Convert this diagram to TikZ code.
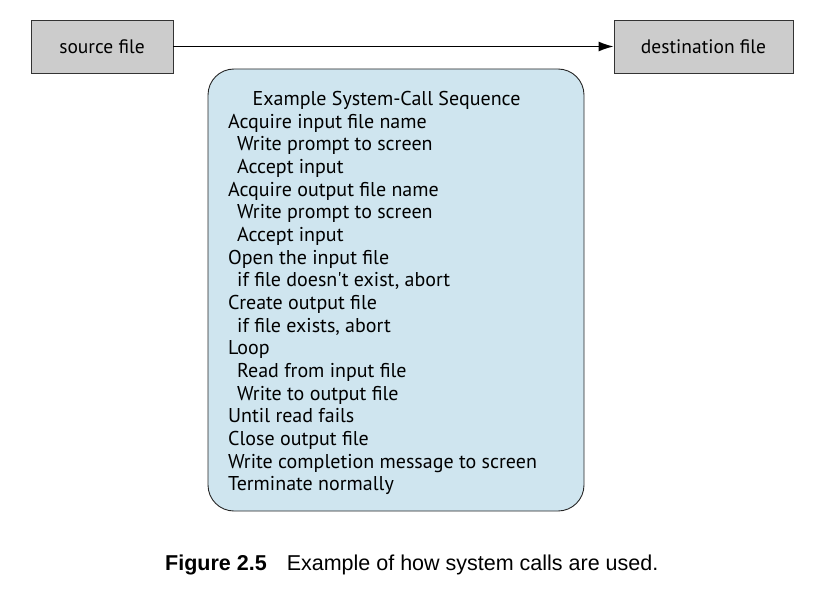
\documentclass[tikz,border=0pt]{standalone}
\usepackage{fontspec}
\setmainfont{PT Sans}
\newfontfamily\capfont{Liberation Sans}
\usetikzlibrary{arrows.meta}
\definecolor{filegray}{HTML}{CCCCCC}
\definecolor{seqblue}{HTML}{CFE5EF}
\tikzset{
  filebox/.style={draw=black!80, line width=0.9pt, fill=filegray, minimum height=53pt, inner sep=0pt, font=\fontsize{19.5}{22}\selectfont},
  seqbox/.style={draw=black!85, line width=0.9pt, fill=seqblue, rounded corners=26pt, inner sep=0pt},
  seqtext/.style={inner sep=0pt, font=\fontsize{20}{22.65}\selectfont},
}
\begin{document}
\begin{tikzpicture}[x=1pt,y=-1pt]
\useasboundingbox (0,0) rectangle (818,604);
\node[filebox, minimum width=142pt] (src) at (102,46.5) {source file};
\node[filebox, minimum width=179pt] (dst) at (703.5,46.5) {destination file};
\draw[line width=1.2pt, -{Latex[length=15pt,width=10pt]}] (src.east) -- (dst.west);
\node[seqbox, minimum width=376pt, minimum height=442pt] (seq) at (396,290) {};
\node[font=\fontsize{20}{22}\selectfont, anchor=base, inner sep=0pt] (title) at (386.5,105.7) {Example System-Call Sequence};
\node[seqtext, anchor=base west] (steps) at (228,128.3) {%
\begin{tabular}[t]{@{}l@{}}
Acquire input file name\\
\hspace*{9pt}Write prompt to screen\\
\hspace*{9pt}Accept input\\
Acquire output file name\\
\hspace*{9pt}Write prompt to screen\\
\hspace*{9pt}Accept input\\
Open the input file\\
\hspace*{9pt}if file doesn\textquotesingle t exist, abort\\
Create output file\\
\hspace*{9pt}if file exists, abort\\
Loop\\
\hspace*{9pt}Read from input file\\
\hspace*{9pt}Write to output file\\
Until read fails\\
Close output file\\
Write completion message to screen\\
Terminate normally
\end{tabular}};
\node[font=\capfont\fontsize{21.5}{24}\selectfont, anchor=base west, inner sep=0pt] (cap) at (165,570) {\textbf{Figure 2.5}\hspace{20pt}Example of how system calls are used.};
\end{tikzpicture}
\end{document}
